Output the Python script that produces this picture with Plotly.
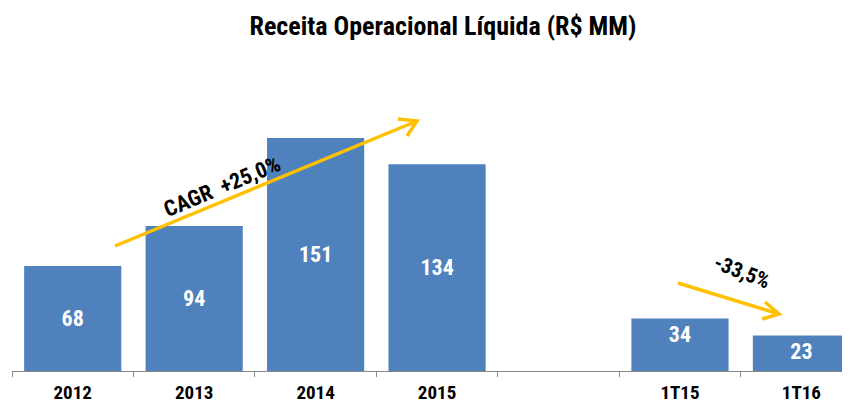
import plotly.graph_objects as go

categories = ["2012", "2013", "2014", "2015", " ", "1T15", "1T16"]
annual_values = [68, 94, 151, 134, None, None, None]
annual_labels = ["68", "94", "151", "134", "", "", ""]
quarter_values = [None, None, None, None, None, 34, 23]
quarter_labels = ["", "", "", "", "", "34", "23"]

OFF = 8  # default page body margin
W, H = 850 - OFF, 405 - OFF
# plot area in page px
L, R, T, B = 12, 850, 60, 371
FONT = "Roboto Condensed, Liberation Sans Narrow, DejaVu Sans Condensed, sans-serif"
BLUE = "#4F81BD"
GOLD = "#FFC000"

def pp(x, y):
    return (x - L) / (R - L), (B - y) / (B - T)

def arrow_path(p0, p1, w1, w2):
    pts = [pp(*p) for p in (p0, p1, w1, p1, w2)]
    return "M {},{} L {},{} M {},{} L {},{} L {},{}".format(
        *[c for pt in pts for c in pt])

label_font = dict(family=FONT, size=22, color="white", weight="bold")

fig = go.Figure()
fig.add_trace(go.Bar(
    x=categories, y=annual_values, text=annual_labels, texttemplate="%{text}",
    textposition="inside", insidetextanchor="middle", textfont=label_font,
    marker=dict(color=BLUE, line=dict(width=0)), hoverinfo="skip",
))
fig.add_trace(go.Bar(
    x=categories, y=quarter_values, text=quarter_labels, texttemplate="%{text}",
    textposition="inside", insidetextanchor="end", textfont=label_font,
    marker=dict(color=BLUE, line=dict(width=0)), hoverinfo="skip",
))

fig.update_layout(
    width=W, height=H,
    margin=dict(l=L - OFF, r=850 - R, t=T - OFF, b=405 - B),
    paper_bgcolor="white", plot_bgcolor="white",
    barmode="overlay", bargap=0.2, showlegend=False,
    title=dict(text="<b>Receita Operacional Líquida (R$ MM)</b>",
               x=(443 - OFF) / W, xref="container", xanchor="center",
               y=1 - (26 - OFF) / H, yref="container", yanchor="middle",
               font=dict(family=FONT, size=26, color="black")),
    xaxis=dict(type="category", range=[-0.5, 6.4], tickson="boundaries",
               ticks="outside", ticklen=5, tickcolor="#888888", tickwidth=1,
               showline=True, linecolor="#888888", linewidth=1,
               showgrid=False, fixedrange=True, ticklabelstandoff=4,
               automargin=False,
               tickfont=dict(family=FONT, size=19, color="black", weight="bold")),
    yaxis=dict(range=[0, (B - T) / 1.543], visible=False, showgrid=False,
               zeroline=False, fixedrange=True, automargin=False),
    shapes=[
        dict(type="path", xref="paper", yref="paper",
             path=arrow_path((115, 246), (417, 121), (398, 119), (407, 136)),
             line=dict(color=GOLD, width=3.5)),
        dict(type="path", xref="paper", yref="paper",
             path=arrow_path((678, 283), (779, 314), (765, 302), (762, 319)),
             line=dict(color=GOLD, width=3.5)),
    ],
    annotations=[
        dict(text="<b>CAGR  +25,0%</b>", xref="paper", yref="paper",
             x=pp(222, 186)[0], y=pp(222, 186)[1], showarrow=False,
             textangle=-22.6, xanchor="center", yanchor="middle",
             font=dict(family=FONT, size=22, color="black")),
        dict(text="<b>-33,5%</b>", xref="paper", yref="paper",
             x=pp(742, 272)[0], y=pp(742, 272)[1], showarrow=False,
             textangle=21, xanchor="center", yanchor="middle",
             font=dict(family=FONT, size=21, color="black")),
    ],
)

fig.write_html("out.html")
